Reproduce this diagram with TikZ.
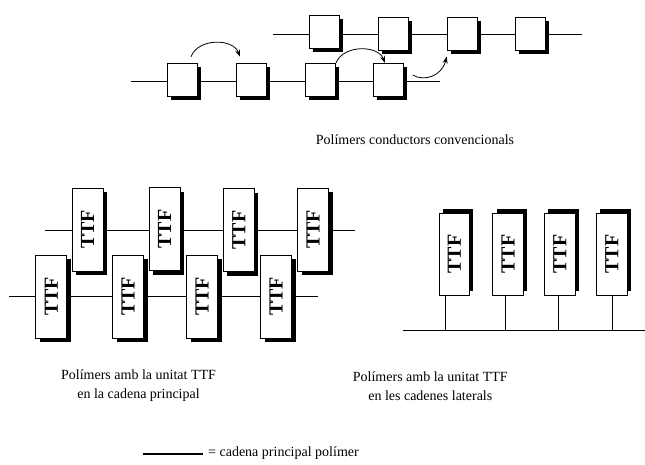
\documentclass[tikz,border=0pt]{standalone}
\usepackage{fontspec}
\setmainfont{Liberation Serif}
\usetikzlibrary{shadows,arrows.meta}
\begin{document}
\begin{tikzpicture}[x=1pt,y=-1pt,
  chainline/.style={line width=0.9pt},
  box/.style={draw, fill=white, line width=0.8pt, minimum width=30pt, minimum height=33pt, inner sep=0pt,
    drop shadow={shadow xshift=3.5pt, shadow yshift=-3.5pt, fill=black, opacity=1}},
  ttf/.style={draw, fill=white, line width=0.8pt, minimum width=31pt, minimum height=83pt, inner sep=0pt,
    font=\fontsize{20}{20}\selectfont\bfseries,
    drop shadow={shadow xshift=4pt, shadow yshift=-4pt, fill=black, opacity=1}},
  ttfup/.style={draw, fill=white, line width=0.8pt, minimum width=30.5pt, minimum height=82pt, inner sep=0pt,
    font=\fontsize{20}{20}\selectfont\bfseries,
    drop shadow={shadow xshift=4pt, shadow yshift=4pt, fill=black, opacity=1}},
  captxt/.style={font=\fontsize{14}{19}\selectfont, align=center, inner sep=0pt},
  hop/.style={line width=0.8pt, -{Stealth[length=7pt,width=5pt]}}
]
\useasboundingbox (0,0) rectangle (645,464);

% ---------- top: conventional conducting polymers ----------
\coordinate (uL) at (272.7,34);
\coordinate (uR) at (581.7,34);
\coordinate (lL) at (131,81);
\coordinate (lR) at (440,81);
\draw[chainline] (uL) -- (uR);
\draw[chainline] (lL) -- (lR);

\node[box] (u1) at (324,32) {};
\node[box] (u2) at (393,33.5) {};
\node[box] (u3) at (462,33.5) {};
\node[box] (u4) at (530.2,33.5) {};

\node[box] (l1) at (182,80) {};
\node[box] (l2) at (251.3,80) {};
\node[box] (l3) at (320.7,80) {};
\node[box] (l4) at (388.3,80) {};

\coordinate (a1s) at (191,56.7);
\coordinate (a1e) at (240,56.7);
\coordinate (a2s) at (336,63);
\coordinate (a2e) at (385,63);
\coordinate (a3s) at (412.7,75);
\coordinate (a3e) at (446.7,56.5);
\draw[hop] (a1s) .. controls (198,38) and (233,38) .. (a1e);
\draw[hop] (a2s) .. controls (343,44.7) and (378,44.7) .. (a2e);
\draw[hop] (a3s) .. controls (424,82) and (442,76) .. (a3e);

\node[captxt] (capTop) at (415,140) {Polímers conductors convencionals};

% ---------- left: TTF in the main chain ----------
\coordinate (mL) at (45,230.3);
\coordinate (mR) at (355,230.3);
\coordinate (nL) at (9,296.7);
\coordinate (nR) at (318.3,296.7);
\draw[chainline] (mL) -- (mR);
\draw[chainline] (nL) -- (nR);

\node[ttf] (m1) at (87.7,229.5) {\rotatebox{90}{TTF}};
\node[ttf] (m2) at (164.5,229) {\rotatebox{90}{TTF}};
\node[ttf] (m3) at (238.8,230) {\rotatebox{90}{TTF}};
\node[ttf] (m4) at (313,229.5) {\rotatebox{90}{TTF}};

\node[ttf] (n1) at (51.3,296.5) {\rotatebox{90}{TTF}};
\node[ttf] (n2) at (128,296.5) {\rotatebox{90}{TTF}};
\node[ttf] (n3) at (202,296.5) {\rotatebox{90}{TTF}};
\node[ttf] (n4) at (276,296.5) {\rotatebox{90}{TTF}};

\node[captxt] (capL) at (138.5,386) {Polímers amb la unitat TTF\\en la cadena principal};

% ---------- right: TTF in the side chains ----------
\coordinate (bbL) at (403.3,330.7);
\coordinate (bbR) at (645,330.7);
\draw[chainline] (bbL) -- (bbR);

\node[ttfup] (r1) at (454.2,254) {\rotatebox{90}{TTF}};
\node[ttfup] (r2) at (508,254) {\rotatebox{90}{TTF}};
\node[ttfup] (r3) at (559.7,254) {\rotatebox{90}{TTF}};
\node[ttfup] (r4) at (611.7,254) {\rotatebox{90}{TTF}};

\coordinate (s1) at ([xshift=-8.5pt]r1.south);
\coordinate (s2) at ([xshift=-3pt]r2.south);
\coordinate (s3) at ([xshift=-1.4pt]r3.south);
\coordinate (s4) at ([xshift=1pt]r4.south);
\draw[line width=1.4pt] (s1) -- (s1 |- bbL);
\draw[line width=0.6pt] (s2) -- (s2 |- bbL);
\draw[line width=0.6pt] (s3) -- (s3 |- bbL);
\draw[line width=0.6pt] (s4) -- (s4 |- bbL);

\node[captxt] (capR) at (430.3,386) {Polímers amb la unitat TTF\\en les cadenes laterals};

% ---------- legend ----------
\coordinate (kL) at (142.7,454);
\coordinate (kR) at (203.3,454);
\draw[line width=1.8pt] (kL) -- (kR);
\node[captxt, anchor=west] (key) at (208,453) {= cadena principal polímer};
\end{tikzpicture}
\end{document}
